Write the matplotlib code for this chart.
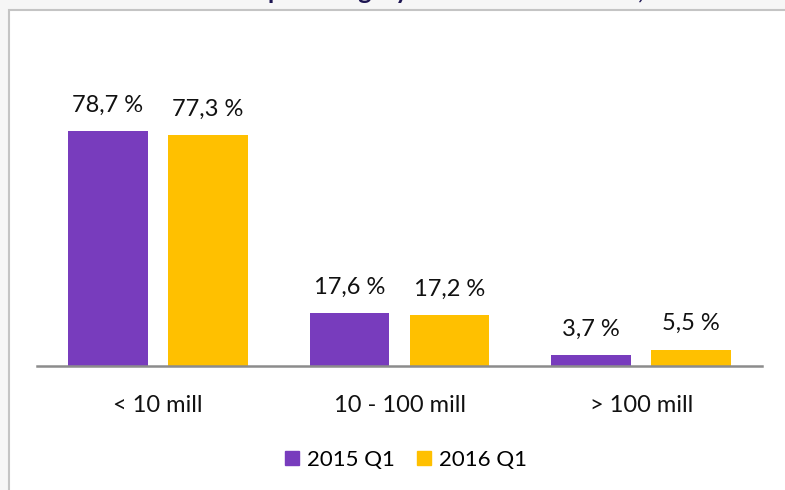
import matplotlib
matplotlib.use("Agg")
import matplotlib.pyplot as plt
import numpy as np
from matplotlib.patches import Rectangle
from matplotlib.lines import Line2D

# data
categories = ["< 10 mill", "10 - 100 mill", "> 100 mill"]
series_names = ["2015 Q1", "2016 Q1"]
values_2015 = [78.7, 17.6, 3.7]
values_2016 = [77.3, 17.2, 5.5]

purple = "#783cbd"
yellow = "#ffc000"
W, H = 785, 490

plt.rcParams["font.family"] = ["Lato", "DejaVu Sans"]

fig = plt.figure(figsize=(W / 100, H / 100), dpi=100)
fig.patch.set_facecolor("#f6f6f6")

# title is cut off in the reference: only its descenders peek above the panel
fig.text(268 / W, 1 + 1 / H, "per category in terms of turnover,",
         fontsize=18, fontweight="bold", color="#1e1652",
         ha="left", va="baseline", zorder=0.1)

# white chart panel with grey border
panel = Rectangle((9 / W, -0.05), 1.0, 1 - 10 / H + 0.05, transform=fig.transFigure,
                  facecolor="white", edgecolor="#c4c4c4", linewidth=1.5, zorder=0.5)
fig.patches.append(panel)

ax = fig.add_axes([37 / W, 1 - 366 / H, (762 - 37) / W, (366 - 20) / H])
ax.set_zorder(1)
ax.patch.set_alpha(0)

x = np.arange(len(categories))
width = 0.33
off = 0.207
b1 = ax.bar(x - off, values_2015, width, color=purple, label=series_names[0])
b2 = ax.bar(x + off, values_2016, width, color=yellow, label=series_names[1])

for bars, vals in [(b1, values_2015), (b2, values_2016)]:
    for rect, v in zip(bars, vals):
        ax.annotate(f"{v:.1f} %".replace(".", ","),
                    (rect.get_x() + rect.get_width() / 2, v),
                    xytext=(0, 11), textcoords="offset points",
                    ha="center", va="bottom", fontsize=17, color="#111111")

ax.set_xlim(-0.5, 2.5)
ax.set_ylim(0, (366 - 20) / 2.986)
ax.set_xticks(x)
ax.set_xticklabels(categories, fontsize=17, color="#111111")
ax.tick_params(axis="x", length=0, pad=21)
ax.set_yticks([])
for s in ["top", "right", "left"]:
    ax.spines[s].set_visible(False)
ax.spines["bottom"].set_color("#8c8c8c")
ax.spines["bottom"].set_linewidth(1.8)

handles = [Line2D([], [], marker="s", linestyle="none", markersize=9.5,
                  markerfacecolor=c, markeredgecolor=c) for c in (purple, yellow)]
fig.legend(handles, series_names, loc="center", bbox_to_anchor=(405 / W, 1 - 460 / H),
           ncol=2, frameon=False, fontsize=16, handletextpad=0.3, columnspacing=0.9,
           handlelength=0.8)

fig.savefig("out.png", dpi=100, facecolor=fig.get_facecolor())
